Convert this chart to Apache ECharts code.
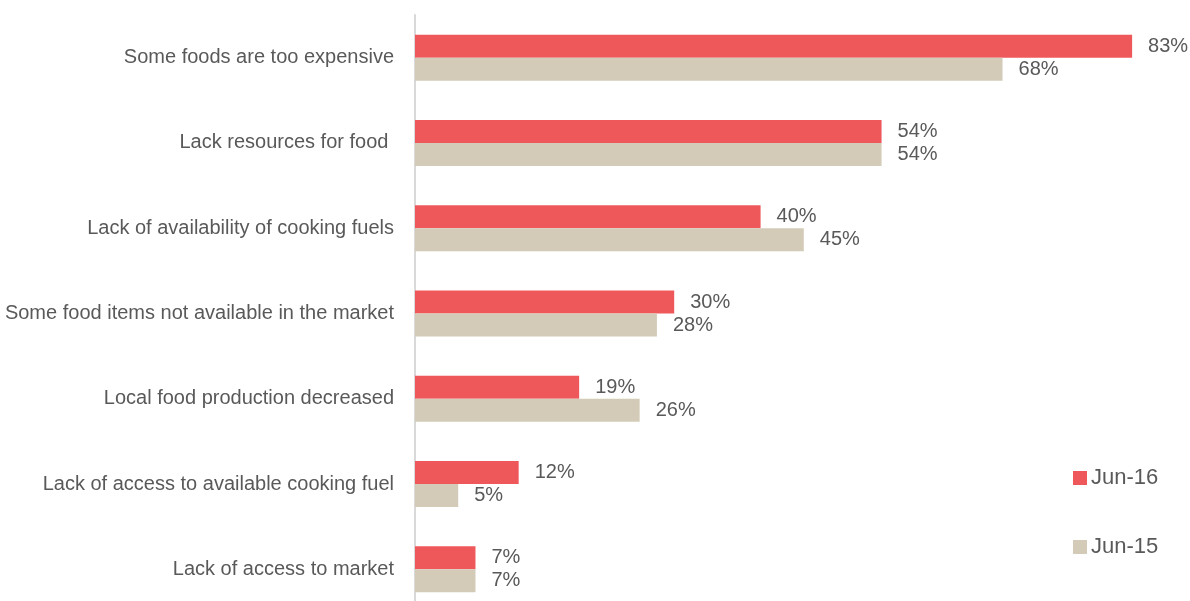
<!DOCTYPE html>
<html>
<head>
<meta charset="utf-8">
<script src="https://cdn.jsdelivr.net/npm/echarts@6/dist/echarts.min.js"></script>
<style>
  html, body { margin: 0; padding: 0; background: #ffffff; overflow: hidden; }
  /* the plot runs a little past the bottom edge of the window */
  #chart { width: 1190px; height: 612px; }
</style>
</head>
<body>
<div id="chart"></div>
<script>
// Reasons for food difficulties, share of households (%)
const categories = [
  'Some foods are too expensive',
  'Lack resources for food ',
  'Lack of availability of cooking fuels',
  'Some food items not available in the market',
  'Local food production decreased',
  'Lack of access to available cooking fuel',
  'Lack of access to market'
];
const jun16 = [83, 54, 40, 30, 19, 12, 7];
const jun15 = [68, 54, 45, 28, 26, 5, 7];
const seriesNames = ['Jun-16', 'Jun-15'];

const FONT = "'Liberation Sans Narrow', 'Arial Narrow', 'Liberation Sans', sans-serif";
const TEXT = '#595959';

const chart = echarts.init(document.getElementById('chart'));

const valueLabel = {
  show: true,
  position: 'right',
  distance: 16,
  color: TEXT,
  fontFamily: FONT,
  fontSize: 20,
  formatter: p => Math.round(p.value) + '%'
};

const legendBase = {
  padding: 0,
  itemWidth: 14, itemHeight: 14, itemGap: 6,
  icon: 'rect',
  textStyle: { color: TEXT, fontFamily: FONT, fontSize: 22, padding: [0, 0, 0, -1] }
};

chart.setOption({
  animation: false,
  backgroundColor: '#ffffff',
  grid: { left: 415, top: 15, bottom: 0, right: 0, containLabel: false },
  xAxis: {
    type: 'value', min: 0, max: 89.7,
    show: false
  },
  yAxis: {
    type: 'category',
    data: categories,
    inverse: true,
    axisLine: { show: true, lineStyle: { color: '#D9D9D9', width: 2 } },
    axisTick: { show: false },
    axisLabel: { color: TEXT, fontFamily: FONT, fontSize: 20, margin: 21 }
  },
  legend: [
    Object.assign({ data: [seriesNames[0]], left: 1073, top: 467 }, legendBase),
    Object.assign({ data: [seriesNames[1]], left: 1073, top: 536 }, legendBase)
  ],
  series: [
    {
      name: seriesNames[0], type: 'bar', data: jun16,
      barWidth: 23, barGap: '0%',
      itemStyle: { color: '#EF585B' },
      label: valueLabel
    },
    {
      name: seriesNames[1], type: 'bar', data: jun15,
      barWidth: 23, barGap: '0%',
      itemStyle: { color: '#D3CBB8' },
      label: valueLabel
    }
  ]
});
</script>
</body>
</html>
